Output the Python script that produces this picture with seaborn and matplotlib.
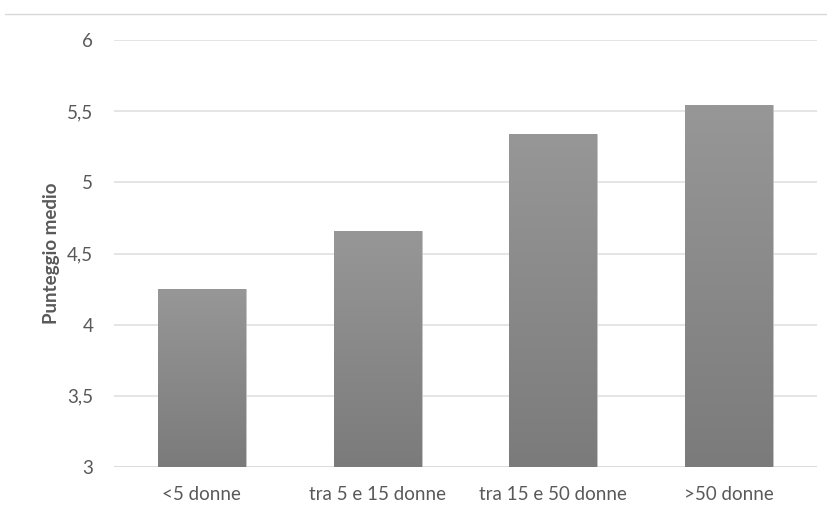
import numpy as np
import pandas as pd
import matplotlib
matplotlib.use("Agg")
import matplotlib.pyplot as plt
import seaborn as sns
from matplotlib.lines import Line2D

categories = ["<5 donne", "tra 5 e 15 donne", "tra 15 e 50 donne", ">50 donne"]
scores = [4.25, 4.66, 5.34, 5.54]
ytick_values = [3, 3.5, 4, 4.5, 5, 5.5, 6]
ytick_labels = ["3", "3,5", "4", "4,5", "5", "5,5", "6"]

df = pd.DataFrame({"classe": categories, "punteggio": scores})

sns.set_theme(style="white")
plt.rcParams["font.family"] = ["Lato", "DejaVu Sans"]

fig = plt.figure(figsize=(8.27, 5.13), dpi=100)
ax = fig.add_axes([114 / 827, 1 - 467 / 513, 703 / 827, 427 / 513])

sns.barplot(data=df, x="classe", y="punteggio", ax=ax, color="#8a8a8a",
            width=0.5, edgecolor="#c4c4c4", linewidth=0.6, zorder=3)

# vertical grey gradient inside every bar
grad = np.linspace(0, 1, 256).reshape(-1, 1)
cmap = matplotlib.colors.LinearSegmentedColormap.from_list("bargrad", ["#7b7b7b", "#979797"])
for patch in ax.patches:
    x0, y0 = patch.get_x(), patch.get_y()
    w, h = patch.get_width(), patch.get_height()
    im = ax.imshow(grad, cmap=cmap, extent=[x0, x0 + w, 3, y0 + h],
                   origin="lower", aspect="auto", zorder=3.5)
    im.set_clip_path(patch)
ax.set_aspect("auto")
ax.set_xlim(-0.5, len(categories) - 0.5)
ax.set_ylim(3, 6)

ax.set_yticks(ytick_values)
ax.set_yticklabels(ytick_labels)
ax.yaxis.grid(True, color="#e0e0e0", linewidth=1.2, zorder=0)
ax.set_axisbelow(True)
for s in ax.spines.values():
    s.set_visible(False)
ax.tick_params(axis="y", length=0, pad=15, labelsize=13.5, labelcolor="#595959")
ax.tick_params(axis="x", length=0, pad=14, labelsize=13.5, labelcolor="#595959")
ax.axhline(3, color="#d9d9d9", linewidth=1.2, zorder=2)

ax.set_xlabel("")
ax.set_ylabel("Punteggio medio", fontsize=13.5, fontweight="bold", color="#595959", labelpad=5)

fig.add_artist(Line2D([5 / 827, 1], [1 - 14 / 513, 1 - 14 / 513], color="#d9d9d9",
                      linewidth=1, transform=fig.transFigure))

fig.savefig("out.png", dpi=100, facecolor="white")
